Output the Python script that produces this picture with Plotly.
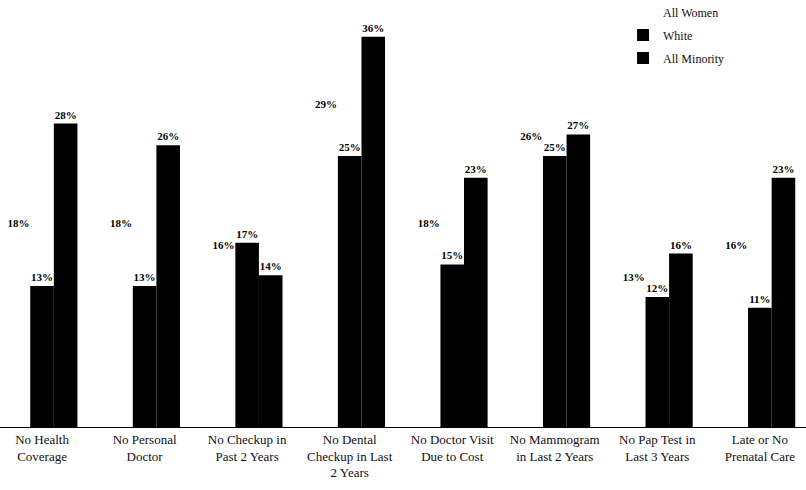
import plotly.graph_objects as go

categories = ["No Health<br>Coverage", "No Personal<br>Doctor", "No Checkup in<br>Past 2 Years",
              "No Dental<br>Checkup in Last<br>2 Years", "No Doctor Visit<br>Due to Cost",
              "No Mammogram<br>in Last 2 Years", "No Pap Test in<br>Last 3 Years",
              "Late or No<br>Prenatal Care"]
all_women = [18, 18, 16, 29, 18, 26, 13, 16]
white = [13, 13, 17, 25, 15, 25, 12, 11]
all_minority = [28, 26, 14, 36, 23, 27, 16, 23]

SERIF = "Liberation Serif, Times New Roman, DejaVu Serif, serif"

series = [("All Women", all_women, "white"),
          ("White", white, "black"),
          ("All Minority", all_minority, "black")]

fig = go.Figure()
for i, (name, vals, col) in enumerate(series):
    fig.add_trace(go.Bar(
        name=name, x=categories, y=vals,
        marker=dict(color=col, line=dict(width=0)),
        texttemplate="<b>%{y}%</b>", textposition="outside",
        textfont=dict(family=SERIF, size=11, color="black"),
        cliponaxis=False, legendgroup=name,
    ))

fig.update_layout(
    width=806, height=490,
    margin=dict(l=0, r=0, t=0, b=63, autoexpand=False),
    paper_bgcolor="white", plot_bgcolor="white",
    barmode="group", bargap=0.31, bargroupgap=0,
    font=dict(family=SERIF, color="#111"),
    showlegend=True,
    legend=dict(x=0.773, y=1.006, xanchor="left", yanchor="top",
                font=dict(size=12, family=SERIF),
                traceorder="grouped", tracegroupgap=4,
                itemwidth=30, bgcolor="rgba(0,0,0,0)"),
    xaxis=dict(range=[-0.41, 7.45], showgrid=False, showline=True, linecolor="black",
               linewidth=1, ticks="", automargin=False,
               tickfont=dict(size=13, family=SERIF, color="#111")),
    yaxis=dict(range=[0, 39.4], visible=False, automargin=False),
)
fig.write_html("out.html", config={"displayModeBar": False},
               post_script="document.body.style.margin='0';")
